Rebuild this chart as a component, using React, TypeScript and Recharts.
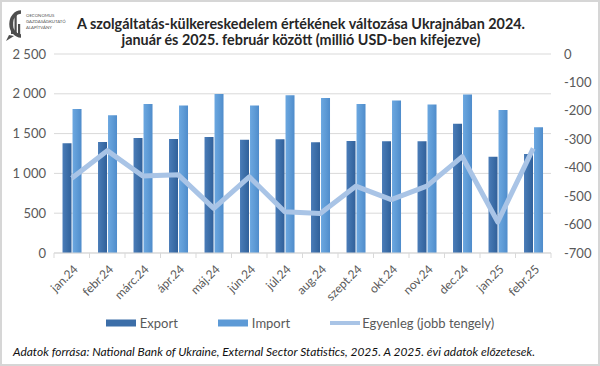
import React from 'react';
import {
  ComposedChart,
  Bar,
  Line,
  XAxis,
  YAxis,
  CartesianGrid,
  Legend,
} from 'recharts';

const months = [
  'jan.24', 'febr.24', 'márc.24', 'ápr.24', 'máj.24', 'jún.24', 'júl.24',
  'aug.24', 'szept.24', 'okt.24', 'nov.24', 'dec.24', 'jan.25', 'febr.25',
];
const exportValues = [1378, 1394, 1445, 1432, 1458, 1424, 1428, 1390, 1407, 1403, 1403, 1625, 1209, 1243];
const importValues = [1810, 1730, 1873, 1852, 1999, 1852, 1982, 1948, 1873, 1915, 1865, 1990, 1797, 1579];
const balanceValues = [-437, -340, -429, -425, -543, -432, -555, -561, -465, -512, -465, -361, -591, -332];

const leftTicks = [0, 500, 1000, 1500, 2000, 2500];
const rightTicks = [-700, -600, -500, -400, -300, -200, -100, 0];

const data = months.map((month, i) => ({
  month,
  export: exportValues[i],
  import: importValues[i],
  balance: balanceValues[i],
}));

const FONT = 'Lato, "Open Sans", sans-serif';
const TICK_COLOR = '#595959';
const GRID_COLOR = '#d9d9d9';
const WIDTH = 600;
const HEIGHT = 366;
const PLOT_LEFT = 54;
const PLOT_RIGHT = 551;
const BAND = (PLOT_RIGHT - PLOT_LEFT) / months.length;

const fmt = (v: number) => {
  const s = Math.abs(v).toString();
  const grouped = s.replace(/\B(?=(\d{3})+(?!\d))/g, ' ');
  return v < 0 ? '-' + grouped : grouped;
};

const MonthTick = (props: any) => {
  const { x, y, payload, index } = props;
  const left = x - BAND / 2;
  const right = x + BAND / 2;
  const ax = x + 4;
  const ay = y + 14;
  return (
    <g>
      <line x1={left} x2={left} y1={y} y2={y + 5} stroke={GRID_COLOR} />
      {index === months.length - 1 && (
        <line x1={right} x2={right} y1={y} y2={y + 5} stroke={GRID_COLOR} />
      )}
      <text
        x={ax}
        y={ay}
        dy="0.35em"
        textAnchor="end"
        transform={`rotate(-45, ${ax}, ${ay})`}
        fontSize={12}
        fontFamily={FONT}
        fill={TICK_COLOR}
      >
        {payload.value}
      </text>
    </g>
  );
};

const LegendContent = () => {
  const items = [
    { name: 'Export', kind: 'bar', fill: '#3c6ea8' },
    { name: 'Import', kind: 'bar', fill: '#5d9ad6' },
    { name: 'Egyenleg (jobb tengely)', kind: 'line', fill: '#a9c4e6' },
  ];
  return (
    <div style={{ display: 'flex', justifyContent: 'center', gap: 40, height: 20, alignItems: 'center' }}>
      {items.map((it) => (
        <div key={it.name} style={{ display: 'flex', alignItems: 'center' }}>
          <svg width={30} height={10} style={{ marginRight: it.kind === 'bar' ? 4 : 2 }}>
            {it.kind === 'bar' ? (
              <rect x={0} y={1.5} width={30} height={7} fill={it.fill} />
            ) : (
              <line x1={0} x2={30} y1={5} y2={5} stroke={it.fill} strokeWidth={4} />
            )}
          </svg>
          <span style={{ fontFamily: FONT, fontSize: 13, color: TICK_COLOR }}>{it.name}</span>
        </div>
      ))}
    </div>
  );
};

const Logo = () => (
  <g>
    <path d="M 21 12 A 10 12 0 1 0 21 36" fill="none" stroke="#4d4d4d" strokeWidth={3.5} />
    <rect x={11} y={20} width={2.2} height={14} fill="#4d4d4d" />
    <rect x={14.5} y={15} width={2.2} height={19} fill="#4d4d4d" />
    <rect x={18} y={24} width={2.2} height={10} fill="#4d4d4d" />
    <path d="M 9 35 L 6 41 L 14 36 Z" fill="#4d4d4d" />
    <text x={26} y={17} fontSize={4.3} fontFamily={FONT} fill="#555">OECONOMUS</text>
    <text x={26} y={23} fontSize={4.3} fontFamily={FONT} fill="#555">GAZDASÁGKUTATÓ</text>
    <text x={26} y={29} fontSize={4.3} fontFamily={FONT} fill="#555">ALAPÍTVÁNY</text>
  </g>
);

export default function App() {
  return (
    <div
      style={{
        position: 'absolute',
        left: 0,
        top: 0,
        width: WIDTH,
        height: HEIGHT,
        background: '#fff',
        border: '2px solid #d6d6d6',
        boxSizing: 'border-box',
      }}
    >
      <div style={{ position: 'absolute', left: -2, top: -2 }}>
        <ComposedChart
          width={WIDTH}
          height={HEIGHT}
          data={data}
          margin={{ top: 54, right: 0, bottom: 33, left: 0 }}
          barCategoryGap="24%"
          barGap={1}
        >
          <defs>
            <linearGradient id="gExport" x1="0" y1="0" x2="1" y2="0">
              <stop offset="0%" stopColor="#4a7cb8" />
              <stop offset="50%" stopColor="#3d6fa9" />
              <stop offset="100%" stopColor="#30609a" />
            </linearGradient>
            <linearGradient id="gImport" x1="0" y1="0" x2="1" y2="0">
              <stop offset="0%" stopColor="#6ba7e0" />
              <stop offset="50%" stopColor="#5e9bd6" />
              <stop offset="100%" stopColor="#4f8ccb" />
            </linearGradient>
          </defs>
          <CartesianGrid yAxisId="left" vertical={false} stroke={GRID_COLOR} />
          <XAxis
            dataKey="month"
            interval={0}
            height={60}
            tickSize={0}
            tickMargin={0}
            tickLine={false}
            axisLine={{ stroke: GRID_COLOR }}
            tick={<MonthTick />}
          />
          <YAxis
            yAxisId="left"
            width={PLOT_LEFT}
            domain={[0, 2500]}
            ticks={leftTicks}
            tickFormatter={fmt}
            axisLine={false}
            tickLine={false}
            tick={{ fontSize: 13, fontFamily: FONT, fill: TICK_COLOR }}
          />
          <YAxis
            yAxisId="right"
            orientation="right"
            width={WIDTH - PLOT_RIGHT}
            domain={[-700, 0]}
            ticks={rightTicks}
            tickFormatter={fmt}
            axisLine={false}
            tickLine={false}
            tickMargin={7}
            tick={{ fontSize: 13, fontFamily: FONT, fill: TICK_COLOR }}
          />
          <Legend verticalAlign="bottom" content={<LegendContent />} />
          <Bar yAxisId="left" dataKey="export" name="Export" fill="url(#gExport)" isAnimationActive={false} />
          <Bar yAxisId="left" dataKey="import" name="Import" fill="url(#gImport)" isAnimationActive={false} />
          <Line
            yAxisId="right"
            dataKey="balance"
            name="Egyenleg (jobb tengely)"
            type="linear"
            stroke="#a9c4e6"
            strokeWidth={5}
            strokeLinejoin="round"
            dot={false}
            activeDot={false}
            isAnimationActive={false}
          />
        </ComposedChart>
      </div>
      <svg
        width={WIDTH}
        height={HEIGHT}
        style={{ position: 'absolute', left: -2, top: -2, pointerEvents: 'none' }}
      >
        <Logo />
        <text x={301} y={28.5} textAnchor="middle" fontSize={15} fontWeight="bold" fontFamily={FONT} fill="#262626" textLength={448} lengthAdjust="spacingAndGlyphs">
          A szolgáltatás-külkereskedelem értékének változása Ukrajnában 2024.
        </text>
        <text x={301} y={45} textAnchor="middle" fontSize={15} fontWeight="bold" fontFamily={FONT} fill="#262626" textLength={359} lengthAdjust="spacingAndGlyphs">
          január és 2025. február között (millió USD-ben kifejezve)
        </text>
        <text x={13} y={356} fontSize={12} fontStyle="italic" fontFamily={FONT} fill="#111" textLength={522} lengthAdjust="spacingAndGlyphs">
          Adatok forrása: National Bank of Ukraine, External Sector Statistics,  2025. A 2025. évi adatok előzetesek.
        </text>
      </svg>
    </div>
  );
}
